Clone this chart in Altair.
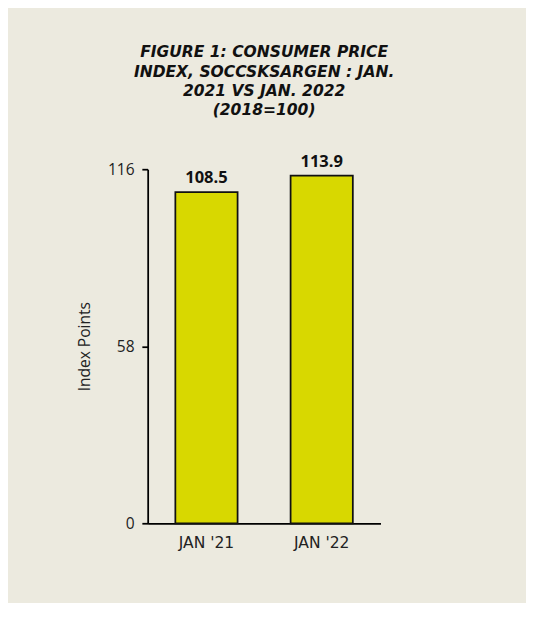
import altair as alt
import pandas as pd

periods = ["JAN '21", "JAN '22"]
values = [108.5, 113.9]
y_ticks = [0, 58, 116]
title_lines = [
    "FIGURE 1: CONSUMER PRICE",
    "INDEX, SOCCSKSARGEN : JAN.",
    "2021 VS JAN. 2022",
    "(2018=100)",
]

df = pd.DataFrame({"period": periods, "value": values})
df["label"] = df["value"].map(lambda v: f"{v:.1f}")

FONT = "Open Sans"
WIDE = "DejaVu Sans"

base = alt.Chart(df).encode(
    x=alt.X(
        "period:N",
        sort=periods,
        title=None,
        scale=alt.Scale(paddingInner=0.46, paddingOuter=0.24),
        axis=alt.Axis(
            labelAngle=0,
            ticks=False,
            domainColor="#000000",
            domainWidth=1.8,
            labelFont=WIDE,
            labelFontSize=16,
            labelColor="#222222",
            labelPadding=12,
        ),
    ),
    y=alt.Y(
        "value:Q",
        title="Index Points",
        scale=alt.Scale(domain=[0, 116], nice=False),
        axis=alt.Axis(
            values=y_ticks,
            grid=False,
            domainColor="#000000",
            domainWidth=1.8,
            tickColor="#000000",
            tickWidth=1.8,
            tickSize=6,
            labelFont=FONT,
            labelFontSize=16,
            labelColor="#222222",
            labelPadding=8,
            titleFont=FONT,
            titleFontSize=16,
            titleFontWeight="normal",
            titleColor="#222222",
            titlePadding=16,
        ),
    ),
)

bars = base.mark_bar(color="#D8D800", stroke="#111111", strokeWidth=1.8)
labels = base.mark_text(
    dy=-14, font=FONT, fontSize=17, fontWeight="bold", color="#111111"
).encode(text="label:N")

chart = (
    (bars + labels)
    .properties(
        width=240,
        height=365,
        background="#ECEADF",
        padding={"left": 70, "top": 28, "right": 135, "bottom": 45},
        title=alt.TitleParams(
            text=title_lines,
            font=WIDE,
            fontSize=16,
            fontWeight="bold",
            fontStyle="italic",
            color="#111111",
            anchor="middle",
            lineHeight=20,
            offset=36,
        ),
    )
    .configure_view(stroke=None)
)

chart.save("out.html", embed_options={"renderer": "svg", "actions": False})
